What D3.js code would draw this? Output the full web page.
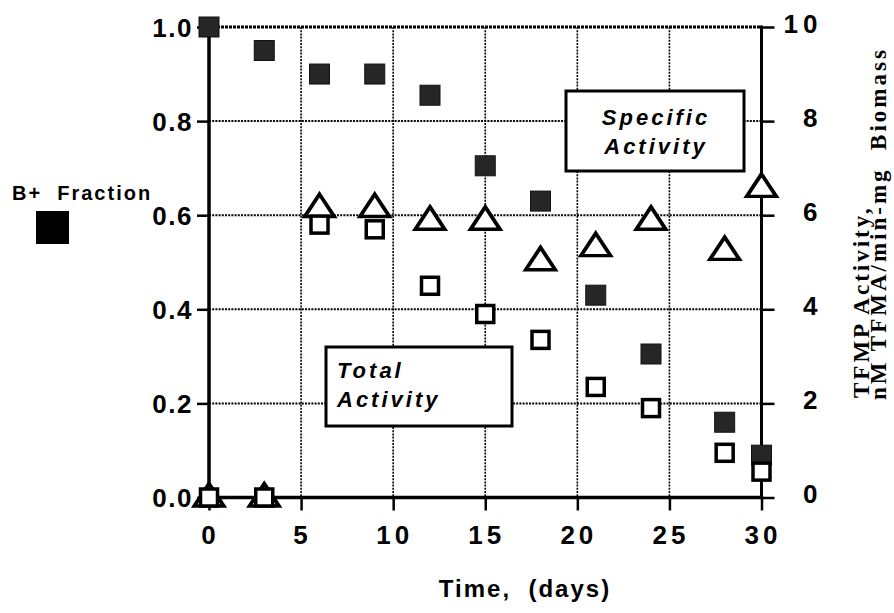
<!DOCTYPE html>
<html>
<head>
<meta charset="utf-8">
<script src="https://cdn.jsdelivr.net/npm/d3@7"></script>
<style>
  body { margin: 0; background: #fff; }
  svg text { font-family: "Liberation Sans", Arial, sans-serif; font-weight: bold; fill: #000; }
</style>
</head>
<body>
<div id="chart"></div>
<script>
// values
let days = [0, 3, 6, 9, 12, 15, 18, 21, 24, 28, 30];
let bFraction = [1.0, 0.95, 0.90, 0.90, 0.855, 0.705, 0.63, 0.43, 0.305, 0.16, 0.09];
let totalActivity = [0, 0, 5.8, 5.7, 4.5, 3.9, 3.35, 2.35, 1.9, 0.95, 0.55];
let specificActivity = [0, 0, 6.15, 6.15, 5.88, 5.88, 5.02, 5.32, 5.88, 5.24, 6.58];
let xTicks = [0, 5, 10, 15, 20, 25, 30];
let leftTicks = [0, 0.2, 0.4, 0.6, 0.8, 1.0];
let rightTicks = [0, 2, 4, 6, 8, 10];

let width = 894, height = 613;
let margin = {top: 27, bottom: 115.5, left: 209, right: 132.5};

let svg = d3.select('#chart').append('svg')
    .attr('width', width)
    .attr('height', height);

let xScale = d3.scaleLinear().domain([0, 30]).range([margin.left, width - margin.right]);
let yLeft = d3.scaleLinear().domain([0, 1]).range([height - margin.bottom, margin.top]);
let yRight = d3.scaleLinear().domain([0, 10]).range([height - margin.bottom, margin.top]);

let x0 = xScale(0), x1 = xScale(30), yB = yLeft(0), yT = yLeft(1);

// dotted grid
let grid = svg.append('g').attr('class', 'grid')
    .style('stroke', '#000').style('stroke-dasharray', '2,1.2');
grid.selectAll('line.v')
    .data(xTicks.slice(1, -1))
    .enter().append('line')
    .attr('x1', d => xScale(d)).attr('x2', d => xScale(d))
    .attr('y1', yT).attr('y2', yB)
    .style('stroke-width', 1.6);
grid.selectAll('line.h')
    .data(leftTicks.slice(1, -1))
    .enter().append('line')
    .attr('x1', x0).attr('x2', x1)
    .attr('y1', d => yLeft(d)).attr('y2', d => yLeft(d))
    .style('stroke-width', 2);
// top border, dotted and heavier
svg.append('line')
    .attr('x1', x0).attr('x2', x1).attr('y1', yT).attr('y2', yT)
    .style('stroke', '#000').style('stroke-width', 3).style('stroke-dasharray', '3,1');

// axes
let xAxis = d3.axisBottom(xScale).tickValues(xTicks).tickSize(13).tickFormat(d => d);
let leftAxis = d3.axisLeft(yLeft).tickValues(leftTicks).tickSize(12).tickFormat(d3.format('.1f'));
let rightAxis = d3.axisRight(yRight).tickValues(rightTicks).tickSize(13).tickFormat(d => d);

function styleAxis(g) {
    g.select('.domain').remove();
    g.selectAll('.tick line').style('stroke', '#000').style('stroke-width', 2.5);
    g.selectAll('.tick text').style('font-size', '26px');
}

svg.append('g')
    .attr('class', 'x-axis')
    .attr('transform', `translate(0,${yB})`)
    .call(xAxis)
    .call(styleAxis)
    .call(g => g.selectAll('.tick text')
        .attr('y', 46).attr('dy', 0)
        .attr('dx', 1)
        .style('letter-spacing', '4px'));

svg.append('g')
    .attr('class', 'y-axis')
    .attr('transform', `translate(${x0},0)`)
    .call(leftAxis)
    .call(styleAxis)
    .call(g => g.selectAll('.tick text')
        .attr('x', -16)
        .attr('dy', '0.36em')
        .style('letter-spacing', '1.5px'));

svg.append('g')
    .attr('class', 'y-axis-right')
    .attr('transform', `translate(${x1},0)`)
    .call(rightAxis)
    .call(styleAxis)
    .call(g => g.selectAll('.tick text')
        .attr('x', 61)
        .attr('dy', '0.2em')
        .attr('text-anchor', 'end')
        .style('letter-spacing', '5px'));

// solid axis lines
let frame = svg.append('g').style('stroke', '#000').style('stroke-linecap', 'square');
frame.append('line').attr('x1', x0).attr('x2', x1).attr('y1', yB).attr('y2', yB).style('stroke-width', 3.5);
frame.append('line').attr('x1', x0).attr('x2', x0).attr('y1', yT).attr('y2', yB).style('stroke-width', 3.5);
frame.append('line').attr('x1', x1).attr('x2', x1).attr('y1', yT).attr('y2', yB).style('stroke-width', 3);

// label boxes
let boxes = svg.append('g');
boxes.append('rect')
    .attr('x', 566).attr('y', 91).attr('width', 178).attr('height', 80)
    .style('fill', '#fff').style('stroke', '#000').style('stroke-width', 3);
boxes.append('text').attr('x', 656).attr('y', 125).attr('text-anchor', 'middle')
    .style('font-size', '22px').style('font-style', 'italic').style('letter-spacing', '3px')
    .text('Specific');
boxes.append('text').attr('x', 656).attr('y', 154).attr('text-anchor', 'middle')
    .style('font-size', '22px').style('font-style', 'italic').style('letter-spacing', '3px')
    .text('Activity');
boxes.append('rect')
    .attr('x', 326).attr('y', 347).attr('width', 186).attr('height', 79)
    .style('fill', '#fff').style('stroke', '#000').style('stroke-width', 3);
boxes.append('text').attr('x', 337).attr('y', 378)
    .style('font-size', '22px').style('font-style', 'italic').style('letter-spacing', '3px')
    .text('Total');
boxes.append('text').attr('x', 337).attr('y', 407)
    .style('font-size', '22px').style('font-style', 'italic').style('letter-spacing', '3px')
    .text('Activity');

// markers
let tri = d3.symbol().type(d3.symbolTriangle).size(300);
let body = svg.append('g').attr('class', 'body');

body.selectAll('path.spec')
    .data(days.map((d, i) => ({day: d, v: specificActivity[i]})))
    .enter().append('path')
    .attr('class', 'spec')
    .attr('d', tri)
    .attr('transform', d => `translate(${xScale(d.day)},${yRight(d.v) + 1}) scale(1.12,0.98)`)
    .style('fill', '#fff').style('stroke', '#000').style('stroke-width', 3.5)
    .style('stroke-linejoin', 'miter');

body.selectAll('rect.bfrac')
    .data(days.map((d, i) => ({day: d, v: bFraction[i]})))
    .enter().append('rect')
    .attr('class', 'bfrac')
    .attr('x', d => xScale(d.day) - 10)
    .attr('y', d => yLeft(d.v) - 10)
    .attr('width', 20).attr('height', 20)
    .style('fill', '#262626').style('stroke', '#111').style('stroke-width', 1);

body.selectAll('rect.total')
    .data(days.map((d, i) => ({day: d, v: totalActivity[i]})))
    .enter().append('rect')
    .attr('class', 'total')
    .attr('x', d => xScale(d.day) - 8.5)
    .attr('y', d => yRight(d.v) - 8.5)
    .attr('width', 17).attr('height', 17)
    .style('fill', '#fff').style('stroke', '#000').style('stroke-width', 3.5);

// legend for B+ fraction
svg.append('text').attr('x', 12).attr('y', 200)
    .style('font-size', '20px').style('letter-spacing', '2px')
    .attr('xml:space', 'preserve')
    .text('B+  Fraction');
svg.append('rect')
    .attr('x', 36).attr('y', 211).attr('width', 33).attr('height', 33)
    .style('fill', '#000');

// axis titles
svg.append('text')
    .attr('x', 525).attr('y', 597)
    .attr('text-anchor', 'middle')
    .attr('xml:space', 'preserve')
    .style('font-size', '24px').style('letter-spacing', '2px')
    .text('Time,  (days)');

let serif = '"Liberation Serif", "Times New Roman", serif';
svg.append('text')
    .attr('transform', 'translate(869,398) rotate(-90)')
    .style('font-family', serif)
    .style('font-size', '23px').style('letter-spacing', '3px')
    .text('TFMP Activity,');
svg.append('text')
    .attr('transform', 'translate(886,400) rotate(-90)')
    .attr('xml:space', 'preserve')
    .style('font-family', serif)
    .style('font-size', '23px').style('letter-spacing', '3px')
    .text('nM TFMA/min-mg  Biomass');
</script>
</body>
</html>
